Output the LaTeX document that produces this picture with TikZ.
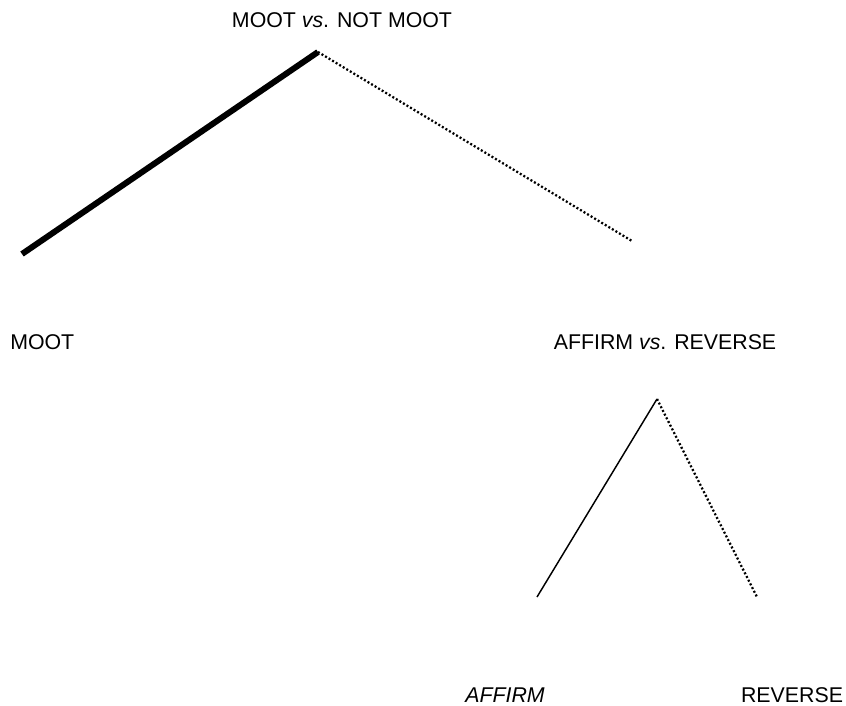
\documentclass[tikz,border=0pt]{standalone}
\usepackage{fontspec}
\setmainfont{Liberation Sans}
\begin{document}
\begin{tikzpicture}[x=0.75pt,y=-0.75pt,
  lbl/.style={inner sep=0pt,font=\fontsize{16}{19}\selectfont},
  thickline/.style={line width=4.5pt},
  thinline/.style={line width=1.1pt},
  dotline/.style={line width=1.7pt,dash pattern=on 1.5pt off 1.6pt}]
\useasboundingbox (0,0) rectangle (846,706);
\node[lbl] (top) at (342,20) {MOOT \emph{vs}. NOT MOOT};
\node[lbl,anchor=west] (moot) at (10,342) {MOOT};
\node[lbl] (ar) at (665,342) {AFFIRM \emph{vs}. REVERSE};
\node[lbl] (aff) at (505,695) {\emph{AFFIRM}};
\node[lbl] (rev) at (792,695) {REVERSE};
\coordinate (r1) at (318,52);
\coordinate (a1) at (22,254);
\coordinate (b1) at (632,241);
\coordinate (r2) at (657,399);
\coordinate (a2) at (537,597);
\coordinate (b2) at (757,597);
\draw[thickline] (r1) -- (a1);
\draw[dotline] (r1) -- (b1);
\draw[thinline] (r2) -- (a2);
\draw[dotline] (r2) -- (b2);
\end{tikzpicture}
\end{document}
